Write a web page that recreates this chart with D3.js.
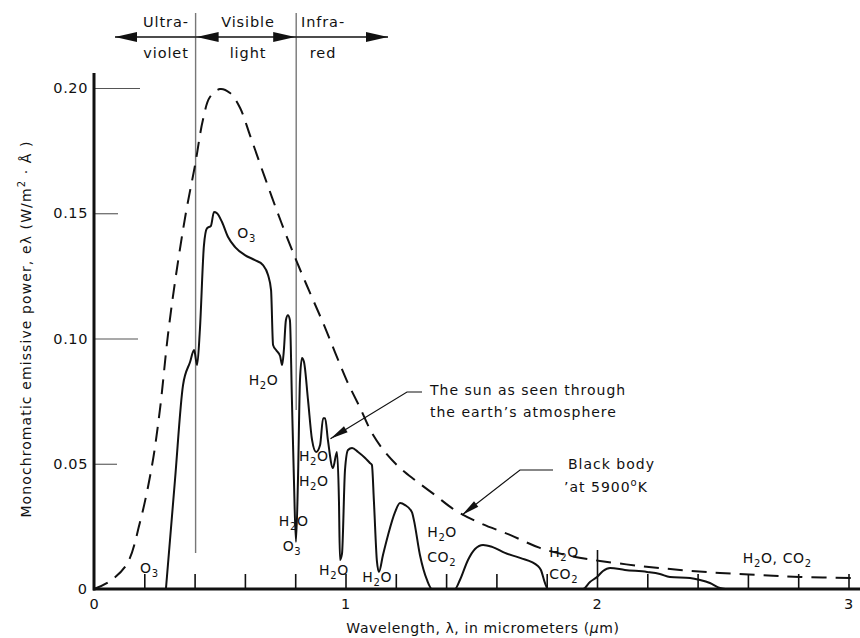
<!DOCTYPE html>
<html>
<head>
<meta charset="utf-8">
<script src="https://cdn.jsdelivr.net/npm/d3@7/dist/d3.min.js"></script>
<style>
  html, body { margin: 0; padding: 0; background: #fff; }
  svg { display: block; }
  text { font-family: "DejaVu Sans", sans-serif; fill: #111; }
</style>
</head>
<body>
<svg id="chart" width="860" height="638"></svg>
<script>
// Black body at 5900 K: wavelength (µm) and monochromatic emissive power (W/m²·Å)
const blackBodyWavelength = [0, 0.064, 0.131, 0.183, 0.231, 0.262, 0.294, 0.326, 0.366, 0.402, 0.433, 0.461, 0.501, 0.541, 0.581, 0.620, 0.680, 0.744, 0.807, 0.859, 0.911, 0.958, 1.006, 1.058, 1.105, 1.157, 1.217, 1.276, 1.356, 1.435, 1.535, 1.654, 1.773, 1.893, 2.012, 2.171, 2.330, 2.489, 2.648, 2.807, 3.02];
const blackBodyPower      = [0, 0.0032, 0.0100, 0.0267, 0.0495, 0.0715, 0.1014, 0.1253, 0.1505, 0.1693, 0.1872, 0.1964, 0.1996, 0.1980, 0.1920, 0.1812, 0.1641, 0.1465, 0.1305, 0.1182, 0.1062, 0.0946, 0.0830, 0.0723, 0.0623, 0.0547, 0.0483, 0.0435, 0.0375, 0.0315, 0.0263, 0.0216, 0.0164, 0.0132, 0.0112, 0.0092, 0.0076, 0.0064, 0.0056, 0.0048, 0.0044];

// The sun as seen through the earth's atmosphere
const sunWavelength = [0.286, 0.322, 0.354, 0.382, 0.398, 0.410, 0.421, 0.437, 0.449, 0.465, 0.477, 0.489, 0.509, 0.533, 0.561, 0.600, 0.640, 0.672, 0.692, 0.704, 0.712, 0.724, 0.740, 0.748, 0.755, 0.763, 0.771, 0.779, 0.787, 0.795, 0.803, 0.811, 0.819, 0.827, 0.835, 0.851, 0.867, 0.883, 0.899, 0.911, 0.919, 0.930, 0.950, 0.966, 0.974, 0.978, 0.986, 0.998, 1.010, 1.026, 1.050, 1.078, 1.097, 1.105, 1.113, 1.125, 1.133, 1.149, 1.169, 1.197, 1.217, 1.237, 1.264, 1.272, 1.296, 1.324, 1.344, 1.435, 1.455, 1.487, 1.515, 1.547, 1.583, 1.634, 1.694, 1.765, 1.777, 1.793, 1.805, 1.944, 1.972, 2.0, 2.024, 2.052, 2.111, 2.199, 2.250, 2.290, 2.370, 2.410, 2.449, 2.489, 2.51];
const sunPower      = [0, 0.0435, 0.0814, 0.0906, 0.0954, 0.0894, 0.1034, 0.137, 0.144, 0.145, 0.1505, 0.150, 0.1465, 0.1405, 0.1365, 0.1333, 0.1313, 0.1293, 0.1253, 0.1193, 0.0974, 0.0954, 0.093, 0.0894, 0.0954, 0.1073, 0.1093, 0.1073, 0.0754, 0.0435, 0.0188, 0.0435, 0.0834, 0.0922, 0.0906, 0.0754, 0.0595, 0.0547, 0.0575, 0.0682, 0.0682, 0.0595, 0.0483, 0.0547, 0.035, 0.0116, 0.014, 0.0475, 0.0555, 0.0563, 0.0547, 0.0523, 0.0503, 0.0495, 0.035, 0.011, 0.0068, 0.0136, 0.0215, 0.0307, 0.0343, 0.0335, 0.0307, 0.0275, 0.0136, 0.0036, 0, 0, 0.0036, 0.0116, 0.016, 0.0176, 0.0168, 0.0144, 0.0124, 0.0092, 0.0076, 0.0024, 0, 0, 0.0028, 0.0048, 0.0072, 0.0084, 0.0076, 0.0068, 0.006, 0.0048, 0.0044, 0.0036, 0.0024, 0.0004, 0];

// Axis ticks
const xTickValues = [0.2, 0.4, 0.6, 0.8, 1.0, 1.2, 1.4, 1.6, 1.8, 2.0, 2.2, 2.4, 2.6, 2.8, 3.0];
const xLabelValues = [0, 1, 2, 3];
const xLabelText = ["0", "1", "2", "3"];
const yTickValues = [0.05, 0.10, 0.15, 0.20];
const yTickText = ["0.05", "0.10", "0.15", "0.20"];

// Spectral band boundaries (µm) and their names
const bandEdges = [0.4, 0.8];
const bandNamesTop = ["Ultra-", "Visible", "Infra-"];
const bandNamesBottom = ["violet", "light", "red"];

// Absorption labels: [wavelength, power, molecule, subscript, trailing text]
const absorptionLabels = [
  [0.183, 0.0065, "O", "3", ""],
  [0.570, 0.1400, "O", "3", ""],
  [0.615, 0.0815, "H", "2", "O"],
  [0.735, 0.0250, "H", "2", "O"],
  [0.750, 0.0150, "O", "3", ""],
  [0.815, 0.0510, "H", "2", "O"],
  [0.815, 0.0410, "H", "2", "O"],
  [0.895, 0.0055, "H", "2", "O"],
  [1.067, 0.0028, "H", "2", "O"],
  [1.325, 0.0208, "H", "2", "O"],
  [1.325, 0.0108, "CO", "2", ""],
  [1.81, 0.0128, "H", "2", "O"],
  [1.81, 0.0040, "CO", "2", ""]
];

const svg = d3.select("#chart");
const x = d3.scaleLinear().domain([0, 3]).range([94, 848.5]);
const y = d3.scaleLinear().domain([0, 0.2]).range([589, 88]);
const ink = "#111";

// Arrowhead: filled narrow triangle with its tip at (tx,ty), pointing away from (fx,fy)
function arrowHead(g, tx, ty, fx, fy, len, half) {
  const dx = tx - fx, dy = ty - fy, d = Math.hypot(dx, dy);
  const ux = dx / d, uy = dy / d;
  const bx = tx - ux * len, by = ty - uy * len;
  g.append("path")
    .attr("d", `M${tx},${ty}L${bx - uy * half},${by + ux * half}L${bx + uy * half},${by - ux * half}Z`)
    .attr("fill", ink);
}

// Band boundaries
const edgeBottoms = [553, 410];
bandEdges.forEach((e, i) => {
  svg.append("line")
    .attr("x1", x(e) + 1).attr("x2", x(e) + 1)
    .attr("y1", 13).attr("y2", edgeBottoms[i])
    .attr("stroke", "#777").attr("stroke-width", 1.4);
});

// Band arrows along the top
const band = svg.append("g");
const ay = 37;
const bx0 = x(0.4) + 1, bx1 = x(0.8) + 1;
band.append("line").attr("x1", 115).attr("x2", bx0).attr("y1", ay).attr("y2", ay).attr("stroke", ink).attr("stroke-width", 1.4);
arrowHead(band, 115, ay, bx0, ay, 22, 5);
band.append("line").attr("x1", bx0).attr("x2", bx1).attr("y1", ay).attr("y2", ay).attr("stroke", ink).attr("stroke-width", 1.4);
arrowHead(band, bx0 + 1, ay, bx1, ay, 22, 5);
arrowHead(band, bx1 - 1, ay, bx0, ay, 22, 5);
band.append("line").attr("x1", bx1).attr("x2", 388).attr("y1", ay).attr("y2", ay).attr("stroke", ink).attr("stroke-width", 1.4);
arrowHead(band, 388, ay, bx1, ay, 22, 5);

const bandCenters = [166, 248, 323];
bandNamesTop.forEach((t, i) => {
  svg.append("text").attr("x", bandCenters[i]).attr("y", 27).attr("text-anchor", "middle")
    .attr("font-size", 14.5).attr("letter-spacing", 0.9).text(t);
  svg.append("text").attr("x", bandCenters[i]).attr("y", 58).attr("text-anchor", "middle")
    .attr("font-size", 14.5).attr("letter-spacing", 0.9).text(bandNamesBottom[i]);
});

// X axis: ticks point up into the plot
const xAxis = d3.axisBottom(x).tickValues(xTickValues).tickSizeInner(-15).tickSizeOuter(0).tickFormat("");
const gx = svg.append("g").attr("transform", `translate(0,${y(0)})`).call(xAxis);
gx.select(".domain").remove();
gx.selectAll(".tick line").attr("stroke", ink).attr("stroke-width", 1.6)
  .filter(d => d === 2.0).attr("y2", -39);
svg.append("line").attr("x1", x(0) - 1).attr("x2", 860).attr("y1", y(0)).attr("y2", y(0))
  .attr("stroke", ink).attr("stroke-width", 3);
xLabelValues.forEach((v, i) => {
  svg.append("text").attr("x", x(v)).attr("y", 609).attr("text-anchor", "middle")
    .attr("font-size", 14.5).text(xLabelText[i]);
});

// Y axis: ticks point right into the plot
const yAxis = d3.axisLeft(y).tickValues(yTickValues).tickSizeInner(0).tickSizeOuter(0).tickPadding(6)
  .tickFormat((d, i) => yTickText[i]);
const gy = svg.append("g").attr("transform", `translate(${x(0)},0)`).call(yAxis);
gy.select(".domain").remove();
gy.selectAll(".tick text").attr("font-size", 14.5).attr("letter-spacing", 0.6)
  .attr("font-family", "DejaVu Sans, sans-serif").attr("fill", ink).attr("x", -6);
const tickLengths = { 0.05: 23, 0.10: 44, 0.15: 24, 0.20: 46 };
gy.selectAll(".tick line").attr("x2", d => tickLengths[d]).attr("stroke", "#555").attr("stroke-width", 1.1);
svg.append("line").attr("x1", x(0)).attr("x2", x(0)).attr("y1", 73).attr("y2", y(0) + 1.5)
  .attr("stroke", ink).attr("stroke-width", 3);
svg.append("text").attr("x", 87).attr("y", 594).attr("text-anchor", "end").attr("font-size", 14.5).text("0");

// Curves
const bbData = blackBodyWavelength.map((w, i) => [w, blackBodyPower[i]]);
const sunData = sunWavelength.map((w, i) => [w, sunPower[i]]);
const smooth = d3.line().x(d => x(d[0])).y(d => y(d[1])).curve(d3.curveCatmullRom.alpha(0.5));
const traced = d3.line().x(d => x(d[0])).y(d => y(d[1])).curve(d3.curveMonotoneX);

svg.append("path").attr("d", smooth(bbData)).attr("fill", "none")
  .attr("stroke", ink).attr("stroke-width", 2).attr("stroke-dasharray", "15,9");
svg.append("path").attr("d", traced(sunData)).attr("fill", "none")
  .attr("stroke", ink).attr("stroke-width", 2).attr("stroke-linejoin", "round");

// Absorption labels
function molecule(g, px, py, parts) {
  const t = g.append("text").attr("x", px).attr("y", py)
    .attr("font-size", 14).attr("letter-spacing", 0.6);
  let sub = false;
  parts.forEach(([s, isSub]) => {
    if (!s) return;
    const ts = t.append("tspan").text(s);
    if (isSub && !sub) { ts.attr("font-size", 10).attr("dy", 4); sub = true; }
    else if (!isSub && sub) { ts.attr("dy", -4); sub = false; }
  });
}
absorptionLabels.forEach(([w, v, main, sub, tail]) => {
  molecule(svg, x(w), y(v), [[main, false], [sub, true], [tail, false]]);
});
molecule(svg, x(2.58), y(0.0105), [["H", false], ["2", true], ["O, CO", false], ["2", true]]);

// Callouts
const notes = svg.append("g");
notes.append("text").attr("x", 430).attr("y", 395).attr("font-size", 14).attr("letter-spacing", 1)
  .text("The sun as seen through");
notes.append("text").attr("x", 430).attr("y", 417).attr("font-size", 14).attr("letter-spacing", 1)
  .text("the earth\u2019s atmosphere");
const sunTip = [x(0.94), y(0.060)];
notes.append("path").attr("d", `M422,392H407L${sunTip[0]},${sunTip[1]}`)
  .attr("fill", "none").attr("stroke", ink).attr("stroke-width", 1.2);
arrowHead(notes, sunTip[0], sunTip[1], 407, 392, 18, 3.5);

notes.append("text").attr("x", 568).attr("y", 469).attr("font-size", 14).attr("letter-spacing", 1)
  .text("Black body");
const bb2 = notes.append("text").attr("x", 564).attr("y", 492).attr("font-size", 14).attr("letter-spacing", 1);
bb2.append("tspan").text("\u2019at 5900");
bb2.append("tspan").attr("font-size", 10).attr("dy", -6).text("o");
bb2.append("tspan").attr("dy", 6).text("K");
const bbTip = [x(1.463), y(0.0295)];
notes.append("path").attr("d", `M553,470H520L${bbTip[0]},${bbTip[1]}`)
  .attr("fill", "none").attr("stroke", ink).attr("stroke-width", 1.2);
arrowHead(notes, bbTip[0], bbTip[1], 520, 470, 18, 3.5);

// Axis titles
const yt = svg.append("text").attr("transform", "translate(31,329) rotate(-90)")
  .attr("text-anchor", "middle").attr("font-size", 14).attr("letter-spacing", 1.1);
yt.append("tspan").text("Monochromatic emissive power, e\u03bb (W/m");
yt.append("tspan").attr("font-size", 10).attr("dy", -6).text("2");
yt.append("tspan").attr("dy", 6).text(" \u00b7 \u00c5 )");

const xt = svg.append("text").attr("x", 483).attr("y", 633).attr("text-anchor", "middle")
  .attr("font-size", 14).attr("letter-spacing", 0.6);
xt.append("tspan").text("Wavelength, \u03bb, in micrometers (");
xt.append("tspan").attr("font-style", "italic").text("\u03bc");
xt.append("tspan").text("m)");
</script>
</body>
</html>
